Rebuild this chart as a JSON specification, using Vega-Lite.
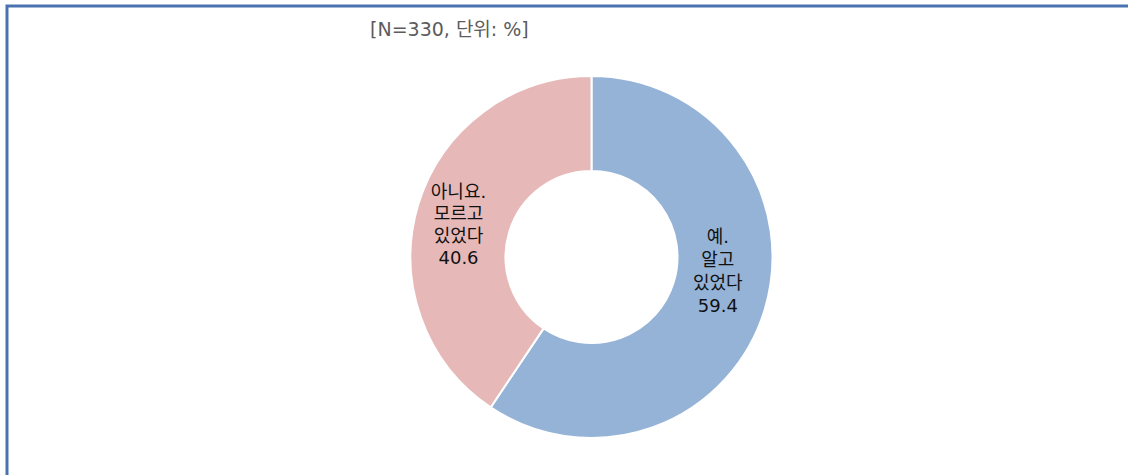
{
  "$schema": "https://vega.github.io/schema/vega-lite/v6.json",
  "autosize": "none",
  "width": 1169,
  "height": 502,
  "padding": {"left": 7, "top": 6, "right": 0, "bottom": 0},
  "background": "white",
  "view": {"stroke": "#4a72b0", "strokeWidth": 3, "fill": "white"},
  "config": {
    "view": {"stroke": "#4a72b0", "strokeWidth": 3},
    "font": "Noto Sans CJK KR"
  },
  "title": {
    "text": "[N=330, 단위: %]",
    "orient": "top",
    "frame": "group",
    "anchor": "start",
    "offset": 0,
    "dx": 363,
    "dy": 43,
    "baseline": "middle",
    "fontSize": 19,
    "fontWeight": "normal",
    "color": "#5c5c5c",
    "font": "DejaVu Sans, Noto Sans CJK KR"
  },
  "data": {
    "values": [
      {"answer": "예.\n알고\n있었다", "pct": 59.4},
      {"answer": "아니요.\n모르고\n있었다", "pct": 40.6}
    ]
  },
  "transform": [
    {"stack": "pct", "groupby": [], "sort": [{"field": "pct", "order": "descending"}], "as": ["t0", "t1"]},
    {"calculate": "(datum.t0 + datum.t1) / 2", "as": "mid"},
    {"calculate": "datum.answer + '\\n' + format(datum.pct, '.1f')", "as": "label"}
  ],
  "layer": [
    {
      "mark": {"type": "arc", "outerRadius": 181, "innerRadius": 86, "stroke": "white", "strokeWidth": 2},
      "encoding": {
        "theta": {"field": "t0", "type": "quantitative", "scale": {"domain": [0, 100]}},
        "theta2": {"field": "t1"},
        "color": {
          "field": "answer",
          "type": "nominal",
          "scale": {"domain": ["예.\n알고\n있었다", "아니요.\n모르고\n있었다"], "range": ["#95b3d7", "#e6b9b8"]},
          "legend": null
        }
      }
    },
    {
      "transform": [{"filter": "datum.pct > 50"}],
      "mark": {"type": "text", "radius": 132, "dy": -57, "fontSize": 18, "lineHeight": 23, "lineBreak": "\n", "align": "center", "baseline": "middle", "font": "DejaVu Sans, Noto Sans CJK KR"},
      "encoding": {
        "theta": {"field": "mid", "type": "quantitative", "scale": {"domain": [0, 100]}},
        "text": {"field": "label", "type": "nominal"},
        "color": {"value": "#111111"}
      }
    },
    {
      "transform": [{"filter": "datum.pct < 50"}],
      "mark": {"type": "text", "radius": 139, "dy": -24, "fontSize": 18, "lineHeight": 22, "lineBreak": "\n", "align": "center", "baseline": "middle", "font": "DejaVu Sans, Noto Sans CJK KR"},
      "encoding": {
        "theta": {"field": "mid", "type": "quantitative", "scale": {"domain": [0, 100]}},
        "text": {"field": "label", "type": "nominal"},
        "color": {"value": "#111111"}
      }
    }
  ]
}
